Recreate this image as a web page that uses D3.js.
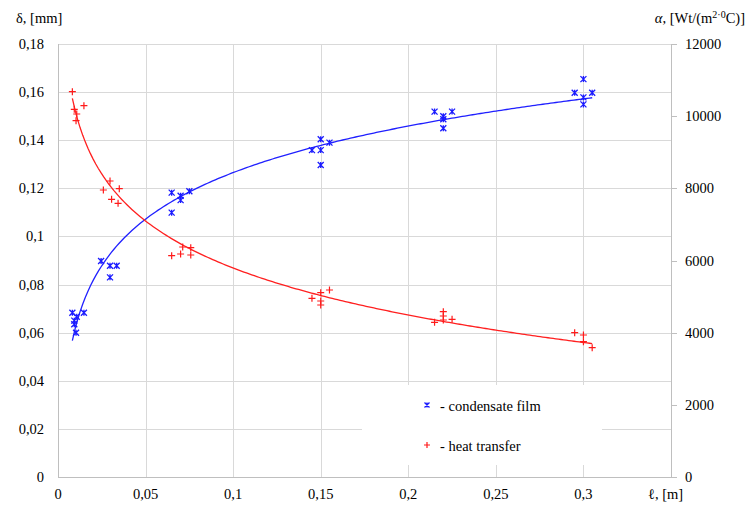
<!DOCTYPE html>
<html>
<head>
<meta charset="utf-8">
<script src="https://cdn.jsdelivr.net/npm/d3@7"></script>
<style>
  body { margin: 0; background: #fff; font-family: "Liberation Serif"; }
  text, tspan { font-family: "Liberation Serif" !important; }
</style>
</head>
<body>
<svg id="chart" width="751" height="506" font-family="Liberation Serif"></svg>
<script>
// condensate film thickness, delta [mm] vs length [m]
const filmLength = [0.0082, 0.0107, 0.0148, 0.0093, 0.0093, 0.0103,
  0.0246, 0.0297, 0.0335, 0.0297,
  0.0649, 0.070, 0.070, 0.075, 0.0649,
  0.150, 0.145, 0.150, 0.155, 0.150,
  0.215, 0.225, 0.220, 0.220, 0.220,
  0.300, 0.295, 0.305, 0.300, 0.300];
const filmDelta = [0.0683, 0.0666, 0.0683, 0.065, 0.0635, 0.060,
  0.0898, 0.0878, 0.0878, 0.083,
  0.1182, 0.1169, 0.1151, 0.1188, 0.1099,
  0.1404, 0.1359, 0.1359, 0.139, 0.1297,
  0.1519, 0.1519, 0.150, 0.1487, 0.145,
  0.1654, 0.1597, 0.1597, 0.1578, 0.1549];

// heat transfer coefficient, alpha [Wt/(m2 C)] vs length [m]
const heatLength = [0.0082, 0.0093, 0.0107, 0.0103, 0.0148,
  0.0297, 0.0259, 0.035, 0.0306, 0.0343,
  0.0712, 0.0758, 0.0649, 0.070, 0.0758,
  0.150, 0.155, 0.145, 0.150, 0.150,
  0.220, 0.220, 0.215, 0.220, 0.225,
  0.295, 0.300, 0.300, 0.305];
const heatAlpha = [10678, 10190, 10060, 9874, 10290,
  8203, 7954, 7990, 7696, 7585,
  6374, 6356, 6133, 6180, 6152,
  5108, 5182, 4953, 4878, 4767,
  4581, 4462, 4287, 4351, 4370,
  3999, 3935, 3750, 3583];

const xTicks = [0, 0.05, 0.1, 0.15, 0.2, 0.25, 0.3];
const leftTicks = [0, 0.02, 0.04, 0.06, 0.08, 0.1, 0.12, 0.14, 0.16, 0.18];
const rightTicks = [0, 2000, 4000, 6000, 8000, 10000, 12000];

const fmt = (v) => String(v).replace(".", ",");
const FONT = "Liberation Serif";
const FS = 14.5;

const svg = d3.select("#chart");
const plot = { left: 58, right: 671, top: 44, bottom: 477 };

const x = d3.scaleLinear().domain([0, 0.35]).range([plot.left, plot.right]);
const yL = d3.scaleLinear().domain([0, 0.18]).range([plot.bottom, plot.top]);
const yR = d3.scaleLinear().domain([0, 12000]).range([plot.bottom, plot.top]);

function styleText(sel) {
  return sel.attr("font-family", FONT).attr("font-size", FS).attr("fill", "#000")
    .style("font-family", FONT).style("font-size", FS + "px");
}

// grid
const grid = svg.append("g").attr("stroke", "#d9d9d9").attr("stroke-width", 1);
grid.selectAll("line.h").data(leftTicks.slice(1)).join("line")
  .attr("class", "h")
  .attr("x1", plot.left).attr("x2", plot.right)
  .attr("y1", (d) => Math.round(yL(d)) + 0.5).attr("y2", (d) => Math.round(yL(d)) + 0.5);
grid.selectAll("line.v").data(xTicks.slice(1)).join("line")
  .attr("class", "v")
  .attr("x1", (d) => Math.round(x(d)) + 0.5).attr("x2", (d) => Math.round(x(d)) + 0.5)
  .attr("y1", plot.top).attr("y2", plot.bottom);

// axes lines
const axisCol = "#bfbfbf";
svg.append("line").attr("x1", plot.left + 0.5).attr("x2", plot.left + 0.5)
  .attr("y1", plot.top).attr("y2", plot.bottom).attr("stroke", axisCol);
svg.append("line").attr("x1", plot.right + 0.5).attr("x2", plot.right + 0.5)
  .attr("y1", plot.top).attr("y2", plot.bottom).attr("stroke", axisCol);
svg.append("line").attr("x1", plot.left).attr("x2", plot.right)
  .attr("y1", plot.bottom + 0.5).attr("y2", plot.bottom + 0.5).attr("stroke", axisCol);

// right axis ticks
svg.append("g").selectAll("line").data(rightTicks).join("line")
  .attr("x1", plot.right).attr("x2", plot.right + 6)
  .attr("y1", (d) => Math.round(yR(d)) + 0.5).attr("y2", (d) => Math.round(yR(d)) + 0.5)
  .attr("stroke", axisCol);

// tick labels
svg.append("g").selectAll("text").data(leftTicks).join("text")
  .call(styleText)
  .attr("x", 44).attr("y", (d) => yL(d) + 5).attr("text-anchor", "end")
  .text(fmt);
svg.append("g").selectAll("text").data(rightTicks).join("text")
  .call(styleText)
  .attr("x", 685).attr("y", (d) => yR(d) + 5)
  .text((d) => d);
svg.append("g").selectAll("text").data(xTicks).join("text")
  .call(styleText)
  .attr("x", (d) => x(d)).attr("y", 499).attr("text-anchor", "middle")
  .text(fmt);

// axis titles
svg.append("text").call(styleText).attr("x", 16).attr("y", 23).text("δ, [mm]");
const rt = svg.append("text").call(styleText).attr("x", 745).attr("y", 23).attr("text-anchor", "end");
rt.append("tspan").attr("font-style", "italic").text("α");
rt.append("tspan").text(", [Wt/(m");
rt.append("tspan").attr("font-size", 10).style("font-size", "10px").attr("dy", -5).text("2·0");
rt.append("tspan").attr("dy", 5).text("C)]");
svg.append("text").call(styleText).attr("x", 648).attr("y", 499).text("ℓ, [m]");

// logarithmic trendlines, least squares on ln(x)
function logFit(xs, ys) {
  const lx = xs.map(Math.log);
  const mx = d3.mean(lx), my = d3.mean(ys);
  const b = d3.sum(lx, (v, i) => (v - mx) * (ys[i] - my)) / d3.sum(lx, (v) => (v - mx) ** 2);
  const a = my - b * mx;
  return (t) => a + b * Math.log(t);
}
function trendPoints(xs, f) {
  const lo = d3.min(xs), hi = d3.max(xs);
  return d3.range(0, 201).map((i) => {
    const t = lo + (hi - lo) * i / 200;
    return [t, f(t)];
  });
}

const filmFit = logFit(filmLength, filmDelta);
const heatFit = logFit(heatLength, heatAlpha);

svg.append("path")
  .datum(trendPoints(filmLength, filmFit))
  .attr("fill", "none").attr("stroke", "#2020ff").attr("stroke-width", 1.3)
  .attr("d", d3.line().x((d) => x(d[0])).y((d) => yL(d[1])));
svg.append("path")
  .datum(trendPoints(heatLength, heatFit))
  .attr("fill", "none").attr("stroke", "#ff2020").attr("stroke-width", 1.3)
  .attr("d", d3.line().x((d) => x(d[0])).y((d) => yR(d[1])));

// markers
function starMarker(g, s) {
  const r = s / 2;
  g.append("path").attr("d", `M${-r},${-r}L${r},${r}M${-r},${r}L${r},${-r}M0,${-r}L0,${r}`)
    .attr("stroke", "#1a1aff").attr("stroke-width", 1.3).attr("fill", "none");
}
function plusMarker(g, s) {
  const r = s / 2;
  g.append("path").attr("d", `M${-r},0L${r},0M0,${-r}L0,${r}`)
    .attr("stroke", "#ff1a1a").attr("stroke-width", 1.2).attr("fill", "none");
}

svg.append("g").selectAll("g").data(filmLength.map((v, i) => [v, filmDelta[i]])).join("g")
  .attr("transform", (d) => `translate(${x(d[0])},${yL(d[1])})`)
  .each(function () { starMarker(d3.select(this), 6); });
svg.append("g").selectAll("g").data(heatLength.map((v, i) => [v, heatAlpha[i]])).join("g")
  .attr("transform", (d) => `translate(${x(d[0])},${yR(d[1])})`)
  .each(function () { plusMarker(d3.select(this), 7); });

// legend
const lg = svg.append("g");
lg.append("rect").attr("x", 362).attr("y", 385).attr("width", 240).attr("height", 80).attr("fill", "#fff");
starMarker(lg.append("g").attr("transform", "translate(427,405)"), 5);
lg.append("text").call(styleText).attr("x", 440).attr("y", 411).text("- condensate film");
plusMarker(lg.append("g").attr("transform", "translate(427,445)"), 6);
lg.append("text").call(styleText).attr("x", 440).attr("y", 451).text("- heat transfer");
</script>
</body>
</html>
